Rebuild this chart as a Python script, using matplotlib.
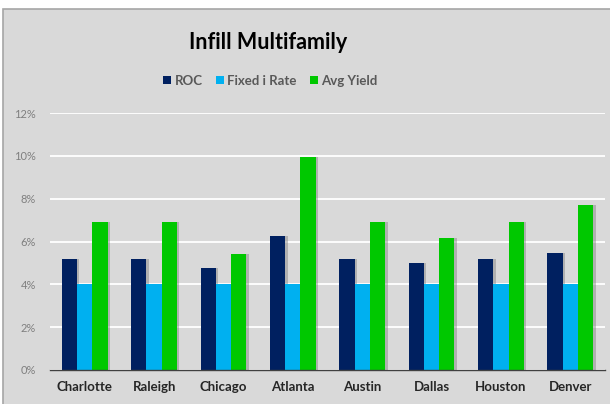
import numpy as np
import matplotlib.pyplot as plt
from matplotlib.patches import Rectangle, Patch

# dane (w %)
cities = ['Charlotte', 'Raleigh', 'Chicago', 'Atlanta', 'Austin', 'Dallas', 'Houston', 'Denver']
roc = [5.2, 5.2, 4.75, 6.25, 5.2, 5.0, 5.2, 5.47]
fixed_rate = [4.0, 4.0, 4.0, 4.0, 4.0, 4.0, 4.0, 4.0]
avg_yield = [6.9, 6.9, 5.4, 9.95, 6.9, 6.15, 6.9, 7.7]

series = ['ROC', 'Fixed i Rate', 'Avg Yield']
colors = ['#002060', '#00b0f0', '#00c800']

plt.rcParams['font.family'] = ['Lato', 'DejaVu Sans']

fig = plt.figure(figsize=(6.10, 4.04), dpi=100)
fig.patch.set_facecolor('white')

# tło ramki wykresu (bez dolnej krawędzi - wychodzi poza obraz)
frame = Rectangle((3 / 610, -0.05), 1.0, 1.05 - 9 / 404, transform=fig.transFigure,
                  facecolor='#d9d9d9', edgecolor='#a6a6a6', linewidth=1.2, zorder=-5)
fig.patches.append(frame)

ax = fig.add_axes([50 / 610, 34 / 404, 555 / 610, 257 / 404])
ax.set_facecolor('none')
ax.set_zorder(2)

x = np.arange(len(cities))
w = 0.22
for i, (vals, c) in enumerate(zip([roc, fixed_rate, avg_yield], colors)):
    pos = x + (i - 1) * w
    # cień
    ax.bar(pos + 0.035, vals, w, color='#7f7f7f', alpha=0.45, zorder=2)
    ax.bar(pos, vals, w, color=c, zorder=3)

ax.set_xlim(-0.5, 7.5)
ax.set_ylim(0, 12)
ax.set_yticks(np.arange(0, 13, 2))
ax.set_yticklabels([f'{v}%' for v in range(0, 13, 2)])
ax.set_xticks(x)
ax.set_xticklabels(cities, fontweight='bold', fontsize=9.5, color='#262626')
ax.tick_params(axis='y', length=0, pad=10, labelsize=8, labelcolor='#7f7f7f')
ax.tick_params(axis='x', length=0, pad=8)
ax.yaxis.grid(True, color='white', linewidth=1.3, zorder=1)
ax.set_axisbelow(True)
for s in ['top', 'right', 'left']:
    ax.spines[s].set_visible(False)
ax.spines['bottom'].set_color('#404040')
ax.spines['bottom'].set_linewidth(1.0)
ax.spines['bottom'].set_zorder(4)

fig.text(0.44, 0.896, 'Infill Multifamily', ha='center', va='center',
         fontsize=15.5, fontweight='bold', color='black')

handles = [Patch(facecolor=c, label=s) for c, s in zip(colors, series)]
leg = fig.legend(handles=handles, loc='center', bbox_to_anchor=(0.443, 0.80), ncol=3,
                 frameon=False, fontsize=9.5, handlelength=0.6, handleheight=0.6,
                 handletextpad=0.25, columnspacing=1.0)
for t in leg.get_texts():
    t.set_fontweight('bold')
    t.set_color('#595959')

fig.savefig('out.png', dpi=100)
